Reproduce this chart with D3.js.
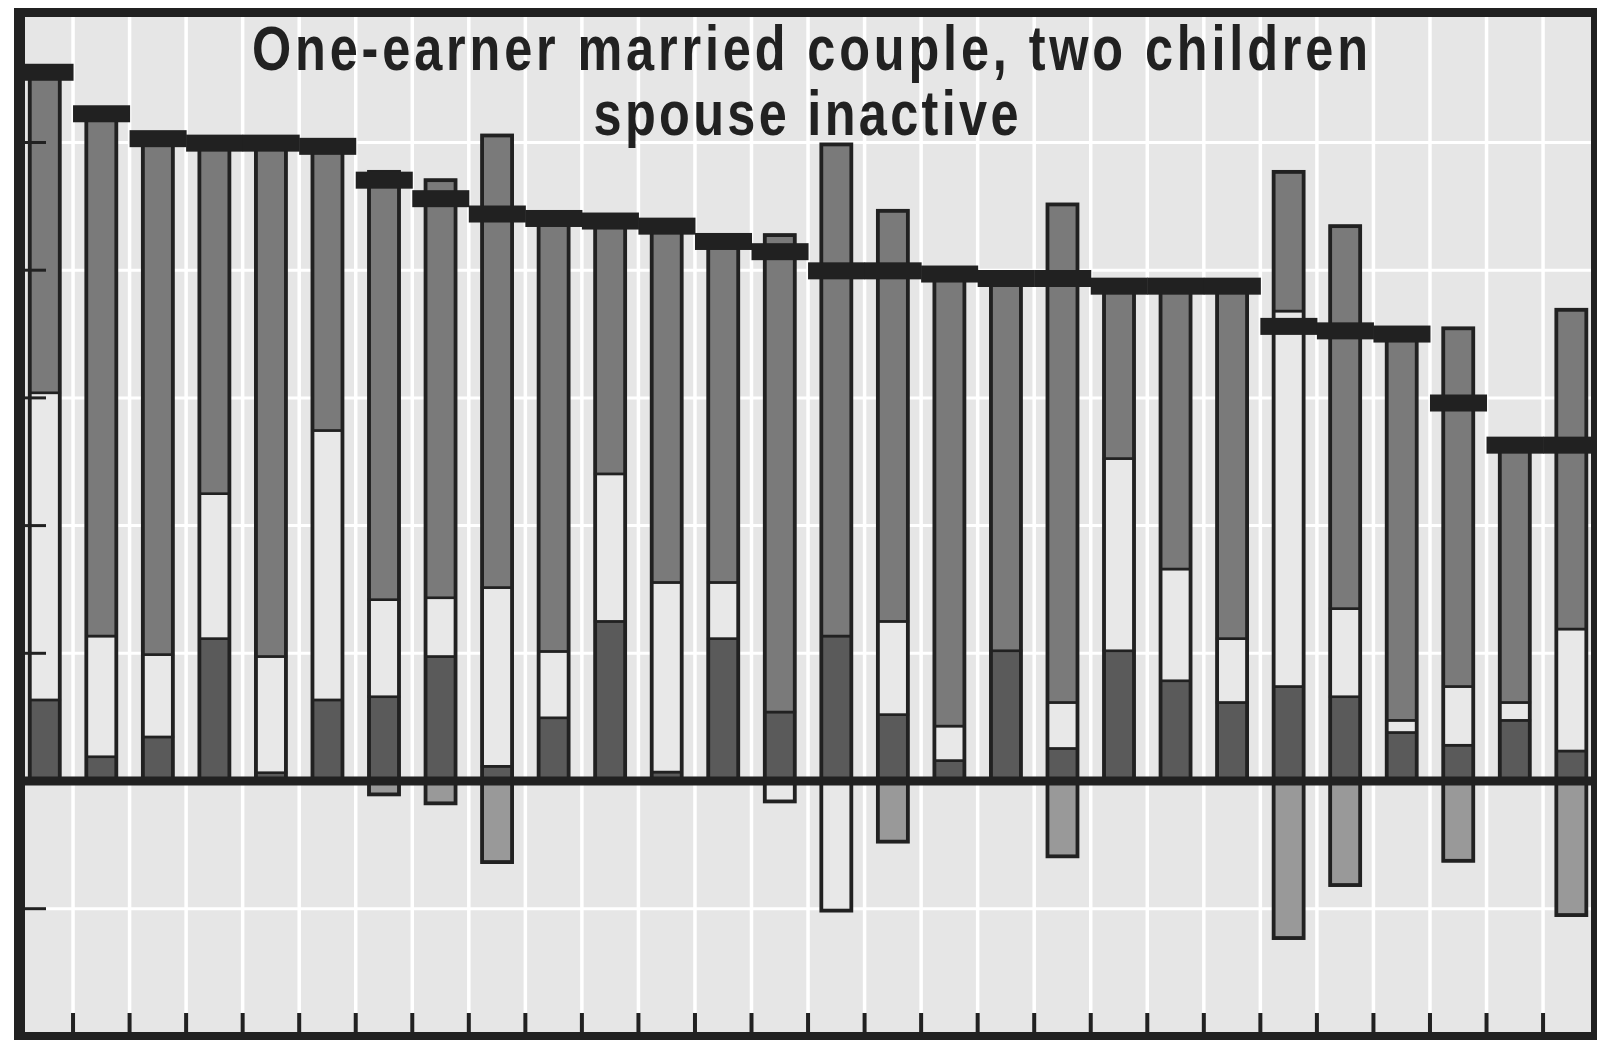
<!DOCTYPE html>
<meta charset="utf-8">

<!-- Load d3.js -->
<script src="https://d3js.org/d3.v7.min.js"></script>
<style>
  body { margin: 0; background: #ffffff; }
</style>

<!-- Create a div where the graph will take place -->
<div id="my_dataviz"></div>

<script>
// one column per case, no labels on the axis
var categories = [1, 2, 3, 4, 5, 6, 7, 8, 9, 10, 11, 12, 13, 14,
                  15, 16, 17, 18, 19, 20, 21, 22, 23, 24, 25, 26, 27, 28];

// components of the bars (%), bottom to top
var dark   = [12.7, 3.8, 6.9, 22.3, 1.3, 12.7, 13.2, 19.5, 2.3, 9.9, 25.0, 1.4, 22.3, 10.8,
              22.7, 10.4, 3.2, 20.4, 5.1, 20.4, 15.7, 12.3, 14.8, 13.2, 7.6, 5.6, 9.5, 4.7];
var light  = [48.1, 18.9, 12.9, 22.7, 18.2, 42.2, 15.2, 9.2, 28.0, 10.4, 23.1, 29.7, 8.8, -3.2,
              -20.3, 14.6, 5.4, 0, 7.2, 30.1, 17.5, 10.0, 58.8, 13.8, 1.9, 9.2, 2.8, 19.1];
var medium = [50.2, 81.8, 80.8, 54.9, 80.4, 44.5, 67.0, 65.4, 70.8, 67.8, 39.6, 55.8, 53.4, 74.7,
              77.0, 64.3, 70.8, 58.3, 78.0, 27.0, 44.3, 55.2, 21.8, 59.9, 60.5, 56.1, 40.3, 50.0];
var negative = [0, 0, 0, 0, 0, 0, -2.1, -3.5, -12.7, 0, 0, 0, 0, 0,
                0, -9.5, 0, 0, -11.8, 0, 0, 0, -24.6, -16.3, 0, -12.5, 0, -21.0];

// net value, shown as the black marker
var net = [111.0, 104.5, 100.6, 99.9, 99.9, 99.4, 94.1, 91.2, 88.8, 88.1, 87.7, 86.9, 84.5, 82.9,
           79.9, 79.9, 79.4, 78.7, 78.7, 77.5, 77.5, 77.5, 71.2, 70.5, 70.0, 59.2, 52.6, 52.6];

var yTicks = [-20, 20, 40, 60, 80, 100];

var titleLines = ["One-earner married couple, two children", "spouse inactive"];

var colors = {dark: "#5a5a5a", light: "#e8e8e8", medium: "#7a7a7a", negative: "#999999"};
var ink = "#212121";

var width = 1597, height = 1040;
var inner = {left: 25, top: 17, right: 1591, bottom: 1032};

var svg = d3.select("#my_dataviz")
  .append("svg")
    .attr("width", width)
    .attr("height", height);

// scales
var x = d3.scaleBand()
  .domain(categories)
  .range([16.5, 1599.6])
  .padding(0);
var bw = x.bandwidth();

var y = d3.scaleLinear()
  .domain([-40, 120])
  .range([1036.4, 14.8]);

// panel background
svg.append("rect")
  .attr("x", inner.left)
  .attr("y", inner.top)
  .attr("width", inner.right - inner.left)
  .attr("height", inner.bottom - inner.top)
  .attr("fill", "#e6e6e6");

// white grid
svg.append("g")
  .selectAll("line")
  .data(categories.slice(1))
  .enter()
  .append("line")
    .attr("x1", function(d) { return x(d); })
    .attr("x2", function(d) { return x(d); })
    .attr("y1", inner.top)
    .attr("y2", inner.bottom)
    .attr("stroke", "#ffffff")
    .attr("stroke-width", 3.5);

svg.append("g")
  .selectAll("line")
  .data(yTicks)
  .enter()
  .append("line")
    .attr("x1", inner.left)
    .attr("x2", inner.right)
    .attr("y1", function(d) { return y(d); })
    .attr("y2", function(d) { return y(d); })
    .attr("stroke", "#ffffff")
    .attr("stroke-width", 3);

// title: narrow glyphs, open tracking
var squeeze = 0.8;
function titleLine(txt, cx, base, len) {
  svg.append("g")
    .attr("transform", "translate(" + cx + "," + base + ") scale(" + squeeze + ",1)")
    .append("text")
      .attr("x", 0)
      .attr("y", 0)
      .attr("text-anchor", "middle")
      .attr("textLength", len / squeeze)
      .attr("lengthAdjust", "spacing")
      .style("font-family", "'Liberation Sans', Arial, sans-serif")
      .style("font-weight", "bold")
      .style("font-size", "63px")
      .attr("fill", ink)
      .text(txt);
}
titleLine(titleLines[0], 810, 70, 1116);
titleLine(titleLines[1], 806, 135, 425);

// stacked bars
var table = categories.map(function(c, i) {
  return {cat: c, dark: dark[i], light: light[i], medium: medium[i], negative: negative[i]};
});
var keys = ["dark", "light", "medium", "negative"];
var stacked = d3.stack()
  .keys(keys)
  .offset(d3.stackOffsetDiverging)(table);

var barW = 30;
function barX(c) { return x(c) + bw / 2 - barW / 2; }

svg.append("g")
  .selectAll("g")
  .data(stacked)
  .enter()
  .append("g")
    .attr("fill", function(s) { return colors[s.key]; })
  .selectAll("rect")
  .data(function(s) { return s.filter(function(d) { return d[1] - d[0] !== 0; }); })
  .enter()
  .append("rect")
    .attr("x", function(d) { return barX(d.data.cat); })
    .attr("y", function(d) { return y(d[1]); })
    .attr("width", barW)
    .attr("height", function(d) { return y(d[0]) - y(d[1]); })
    .attr("stroke", ink)
    .attr("stroke-width", 2.6);

// heavier outline round each bar
svg.append("g")
  .selectAll("rect")
  .data(table)
  .enter()
  .append("rect")
    .attr("x", function(d) { return barX(d.cat); })
    .attr("y", function(d) { return y(d3.sum(keys, function(k) { return Math.max(0, d[k]); })); })
    .attr("width", barW)
    .attr("height", function(d) {
      var top = d3.sum(keys, function(k) { return Math.max(0, d[k]); });
      var bot = d3.sum(keys, function(k) { return Math.min(0, d[k]); });
      return y(bot) - y(top);
    })
    .attr("fill", "none")
    .attr("stroke", ink)
    .attr("stroke-width", 3.8);

// zero line
svg.append("line")
  .attr("x1", 14)
  .attr("x2", width)
  .attr("y1", y(0))
  .attr("y2", y(0))
  .attr("stroke", ink)
  .attr("stroke-width", 9);

// net markers
svg.append("g")
  .selectAll("rect")
  .data(categories)
  .enter()
  .append("rect")
    .attr("x", function(d) { return x(d); })
    .attr("y", function(d, i) { return y(net[i]) - 8.5; })
    .attr("width", bw + 0.5)
    .attr("height", 17)
    .attr("fill", ink);

// left ticks
svg.append("g")
  .selectAll("line")
  .data(yTicks)
  .enter()
  .append("line")
    .attr("x1", inner.left)
    .attr("x2", 46)
    .attr("y1", function(d) { return y(d); })
    .attr("y2", function(d) { return y(d); })
    .attr("stroke", ink)
    .attr("stroke-width", 3);

// bottom ticks
svg.append("g")
  .selectAll("rect")
  .data(categories.slice(1))
  .enter()
  .append("rect")
    .attr("x", function(d) { return x(d) - 2; })
    .attr("y", 1013)
    .attr("width", 4)
    .attr("height", inner.bottom - 1013)
    .attr("fill", ink);

// frame
var frame = svg.append("g").attr("fill", ink);
frame.append("rect").attr("x", 14).attr("y", 8).attr("width", inner.left - 14).attr("height", height);
frame.append("rect").attr("x", 14).attr("y", 8).attr("width", width).attr("height", inner.top - 8);
frame.append("rect").attr("x", inner.right).attr("y", 8).attr("width", 10).attr("height", height);
frame.append("rect").attr("x", 14).attr("y", inner.bottom).attr("width", width).attr("height", 10);
</script>
